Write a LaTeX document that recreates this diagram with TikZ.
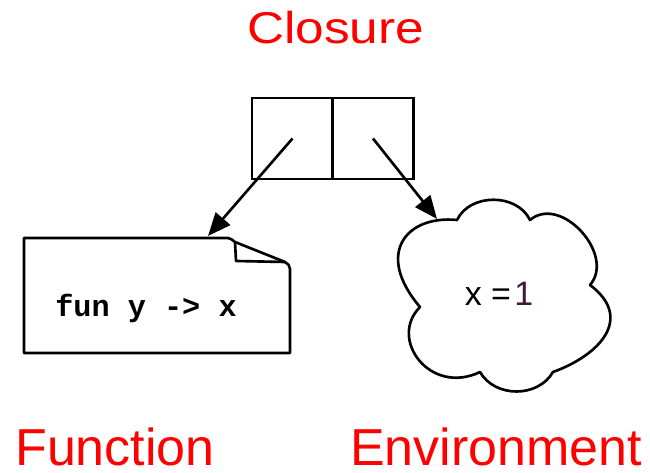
\documentclass[tikz,border=0pt]{standalone}
\usepackage{fontspec}
\setmainfont{Liberation Sans}
\setmonofont{Liberation Mono}
\usetikzlibrary{arrows.meta}
\definecolor{labelred}{RGB}{255,0,0}
\definecolor{numpurple}{RGB}{64,24,56}
\tikzset{
    cell/.style={draw, line width=1.6pt, minimum size=1.62cm, inner sep=0pt},
    ptr/.style={line width=1.5pt, -{Triangle[length=0.46cm,width=0.38cm]}},
    title/.style={text=labelred, inner sep=0pt, anchor=base},
    outline/.style={line width=1.5pt, line join=round},
}

\begin{document}
\begin{tikzpicture}[x=0.02cm, y=0.02cm]
        \useasboundingbox (0,0) rectangle (650,473);
        \coordinate (F) at (208,237);
        \coordinate (E) at (437,254);
        % closure cells
        \node[title, xscale=1.15, font=\fontsize{25.4}{28}\selectfont] (closure) at (335.5,429) {Closure};
        \node[cell] (L) at (292.5,334.5) {};
        \node[cell] (R) at (373,334.5) {};
        % function page
        \draw[outline] (24,120) -- (24,235) -- (228,235) to[out=0,in=150] (235,231) --
                (285,211) to[out=-30,in=90] (290,204) -- (290,120) -- cycle;
        \draw[outline] (235,231) -- (236,212) -- (285,211);
        \node[inner sep=0pt, anchor=base, font=\ttfamily\bfseries\fontsize{17.2}{20}\selectfont] (code) at (146,156) {fun y -> x};
        % environment cloud
        \draw[outline] (420,166) .. controls (374,220) and (407,258) .. (457,253)
                .. controls (470,280) and (517,280) .. (530,253)
                .. controls (561,279) and (616,218) .. (590,188)
                .. controls (634,155) and (600,118) .. (553,101)
                .. controls (538,75) and (495,75) .. (480,101)
                .. controls (430,77) and (388,134) .. (420,166) -- cycle;
        \node[inner sep=0pt, anchor=base, font=\fontsize{19.3}{22}\selectfont] (val) at (499,167) {x =\hspace{0.1em}\textcolor{numpurple}{1}};
        \draw[ptr] (L.center) -- (F);
        \draw[ptr] (R.center) -- (E);
        \node[title, font=\fontsize{29.6}{32}\selectfont] (fun) at (115,7) {Function};
        \node[title, font=\fontsize{29.6}{32}\selectfont] (env) at (496,7) {Environment};
\end{tikzpicture}
\end{document}
